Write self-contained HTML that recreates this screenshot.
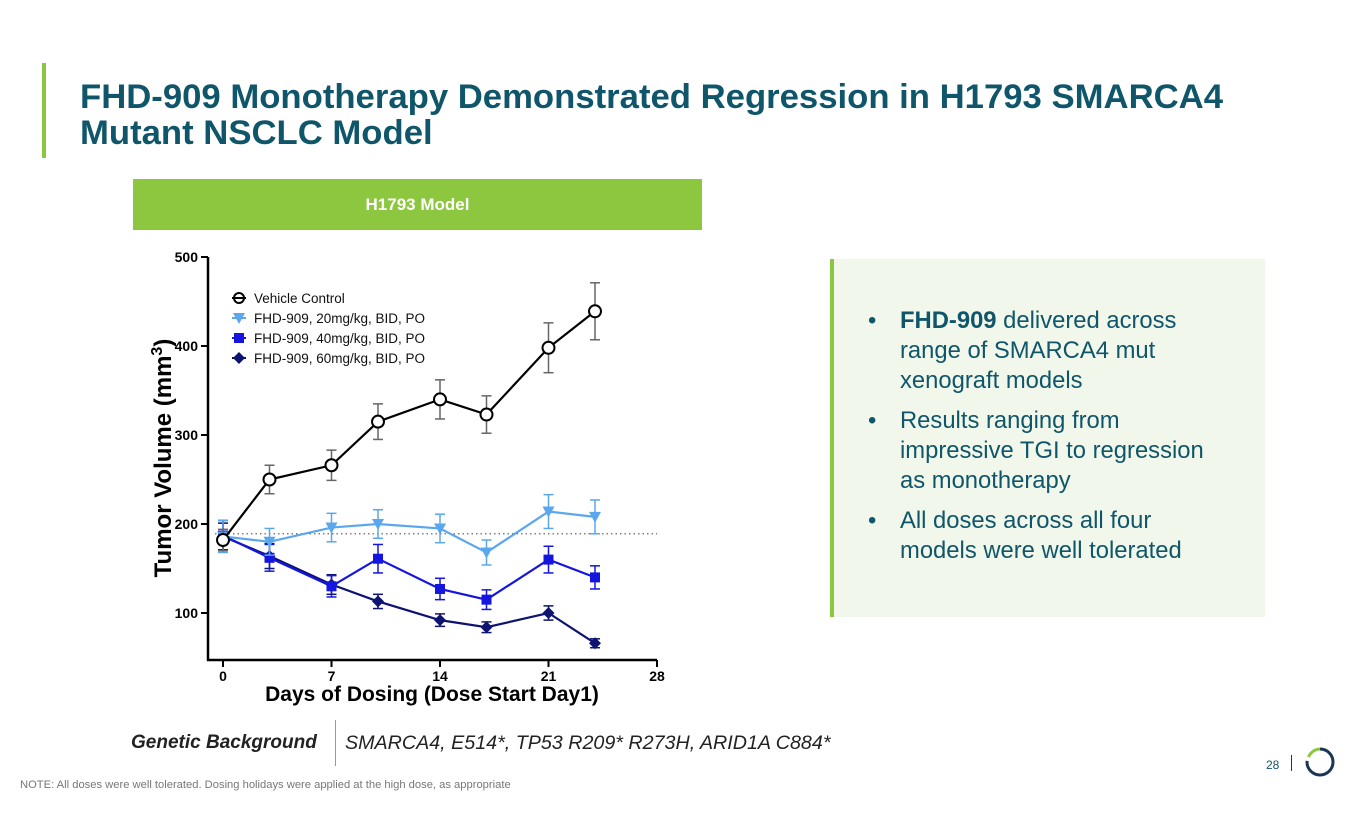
<!DOCTYPE html>
<html><head><meta charset="utf-8"><style>
body{margin:0;width:1365px;height:829px;background:#fff;font-family:"Liberation Sans",sans-serif;position:relative;overflow:hidden}
.abs{position:absolute}
</style></head><body>
<div class="abs" style="left:42px;top:63px;width:4px;height:95px;background:#8dc63f"></div>
<div class="abs" style="left:80px;top:79px;font-size:34.7px;font-weight:bold;color:#10566a;line-height:36px">FHD-909 Monotherapy Demonstrated Regression in H1793 SMARCA4<br>Mutant NSCLC Model</div>
<div class="abs" style="left:133px;top:179px;width:569px;height:51px;background:#8dc63f;color:#fff;font-size:17px;font-weight:bold;text-align:center;line-height:51px">H1793 Model</div>

<svg class="abs" style="left:0;top:0" width="1365" height="829">
<g id="chart"></g>
</svg>

<div class="abs" style="left:830px;top:259px;width:435px;height:358px;background:#f1f7ea;border-left:4px solid #8dc63f;box-sizing:border-box"></div>
<div class="abs" style="left:868px;top:306px;width:366px;color:#10566a;font-size:23.8px;line-height:30px">
<div style="display:flex;margin-bottom:10px"><span style="width:32px;flex:none">•</span><span><b>FHD-909</b> delivered across range of SMARCA4 mut xenograft models</span></div>
<div style="display:flex;margin-bottom:10px"><span style="width:32px;flex:none">•</span><span>Results ranging from impressive TGI to regression as monotherapy</span></div>
<div style="display:flex"><span style="width:32px;flex:none">•</span><span>All doses across all four models were well tolerated</span></div>
</div>

<div class="abs" style="left:131px;top:732px;font-size:19px;font-weight:bold;font-style:italic;color:#222">Genetic Background</div>
<div class="abs" style="left:335px;top:720px;width:1px;height:46px;background:#999"></div>
<div class="abs" style="left:345px;top:732px;font-size:19.7px;font-style:italic;color:#222">SMARCA4, E514*, TP53 R209* R273H, ARID1A C884*</div>
<div class="abs" style="left:20px;top:779px;font-size:11.2px;color:#777">NOTE: All doses were well tolerated. Dosing holidays were applied at the high dose, as appropriate</div>
<div class="abs" style="left:1266px;top:758px;font-size:12px;color:#10566a">28</div>
<div class="abs" style="left:1291px;top:755px;width:1px;height:16px;background:#333"></div>
<svg class="abs" style="left:1303px;top:745px" width="34" height="34">
<circle cx="17" cy="17" r="13" fill="none" stroke="#1c3553" stroke-width="3" stroke-dasharray="62 100" transform="rotate(-90 17 17)" />
<path d="M5.5 12 A13 13 0 0 1 17 4" fill="none" stroke="#8dc63f" stroke-width="3"/>
</svg>

<script>
const days=[0,3,7,10,14,17,21,24];
const vehicle=[182,250,266,315,340,323,398,439];
const vehicleErr=[12,16,17,20,22,21,28,32];
const dose20=[186,180,196,200,195,168,214,208];
const dose20Err=[18,15,16,16,16,14,19,19];
const dose40=[187,162,130,161,127,115,160,140];
const dose40Err=[17,15,12,16,12,11,15,13];
const dose60=[186,164,132,113,92,84,100,66];
const dose60Err=[15,14,11,8,7,6,8,5];
const xTicks=[0,7,14,21,28];
const yTicks=[100,200,300,400,500];
const baseline=189;
const legendLabels=["Vehicle Control","FHD-909, 20mg/kg, BID, PO","FHD-909, 40mg/kg, BID, PO","FHD-909, 60mg/kg, BID, PO"];

const NS="http://www.w3.org/2000/svg";
const g=document.getElementById('chart');
const X=d=>223+d*(657-223)/28;
const Y=v=>613-(v-100)*(356/400);
function el(t,a,p){const e=document.createElementNS(NS,t);for(const k in a)e.setAttribute(k,a[k]);(p||g).appendChild(e);return e;}
const ax=el('line',{x1:208,y1:257,x2:208,y2:661,stroke:'#000','stroke-width':2.5});


const bx=el('line',{x1:207,y1:660,x2:657,y2:660,stroke:'#000','stroke-width':2.5});


yTicks.forEach(v=>{el('line',{x1:201,y1:Y(v),x2:208,y2:Y(v),stroke:'#000','stroke-width':2});
const t=el('text',{x:198,y:Y(v)+5,'text-anchor':'end','font-size':14,'font-weight':'bold','font-family':'Liberation Sans'});t.textContent=v;

});
xTicks.forEach(d=>{el('line',{x1:X(d),y1:660,x2:X(d),y2:667,stroke:'#000','stroke-width':2});
const t=el('text',{x:X(d),y:681,'text-anchor':'middle','font-size':14,'font-weight':'bold','font-family':'Liberation Sans'});t.textContent=d;

});
const xt=el('text',{x:432,y:701,'text-anchor':'middle','font-size':21,'font-weight':'bold','font-family':'Liberation Sans'});xt.textContent='Days of Dosing (Dose Start Day1)';


const yt=el('text',{x:0,y:0,'text-anchor':'middle','font-size':24,'font-weight':'bold','font-family':'Liberation Sans',transform:'translate(171,458) rotate(-90)'});
yt.innerHTML='Tumor Volume (mm<tspan font-size="16" dy="-9">3</tspan><tspan dy="9">)</tspan>';


const bl=el('line',{x1:215,y1:Y(baseline),x2:657,y2:Y(baseline),stroke:'#555','stroke-width':1.2,'stroke-dasharray':'1.5 3'});



function marker(type,x,y,c,parent){
 if(type==='circle')return el('circle',{cx:x,cy:y,r:6,fill:'#fff',stroke:c,'stroke-width':2},parent);
 if(type==='tri')return el('polygon',{points:`${x-6},${y-5} ${x+6},${y-5} ${x},${y+6}`,fill:c},parent);
 if(type==='sq')return el('rect',{x:x-5,y:y-5,width:10,height:10,fill:c},parent);
 return el('polygon',{points:`${x},${y-6} ${x+6},${y} ${x},${y+6} ${x-6},${y}`,fill:c},parent);
}
const series=[
 {v:dose60,e:dose60Err,c:'#0d1370',m:'dia',name:'series-60mg'},
 {v:dose40,e:dose40Err,c:'#1515e0',m:'sq',name:'series-40mg'},
 {v:dose20,e:dose20Err,c:'#5ba7ee',m:'tri',name:'series-20mg'},
 {v:vehicle,e:vehicleErr,c:'#000',ec:'#666',m:'circle',name:'series-vehicle'}];
series.forEach(s=>{
 const grp=el('g',{});
 
 
 const ec=s.ec||s.c;
 days.forEach((d,i)=>{const x=X(d),y1=Y(s.v[i]+s.e[i]),y2=Y(s.v[i]-s.e[i]);
  el('line',{x1:x,y1:y1,x2:x,y2:y2,stroke:ec,'stroke-width':1.5},grp);
  el('line',{x1:x-5,y1:y1,x2:x+5,y2:y1,stroke:ec,'stroke-width':1.5},grp);
  el('line',{x1:x-5,y1:y2,x2:x+5,y2:y2,stroke:ec,'stroke-width':1.5},grp);});
 el('polyline',{points:days.map((d,i)=>X(d)+','+Y(s.v[i])).join(' '),fill:'none',stroke:s.c,'stroke-width':2.2},grp);
 days.forEach((d,i)=>{const m=marker(s.m,X(d),Y(s.v[i]),s.c,grp);
  
  });
});
const legM=['circle','tri','sq','dia'],legC=['#000','#5ba7ee','#1515e0','#0d1370'];
legendLabels.forEach((l,i)=>{const y=298+i*20;
 const lg=el('g',{});
 
 
 el('line',{x1:232,y1:y,x2:246,y2:y,stroke:legC[i],'stroke-width':2},lg);
 if(i===0){el('circle',{cx:239,cy:y,r:5,fill:'#fff',stroke:'#000','stroke-width':2},lg);el('line',{x1:234,y1:y,x2:244,y2:y,stroke:'#000','stroke-width':2},lg);}
 else marker(legM[i],239,y,legC[i],lg);
 const t=el('text',{x:254,y:y+5,'font-size':13.5,'font-family':'Liberation Sans',fill:'#111'},lg);t.textContent=l;});
</script>
</body></html>
